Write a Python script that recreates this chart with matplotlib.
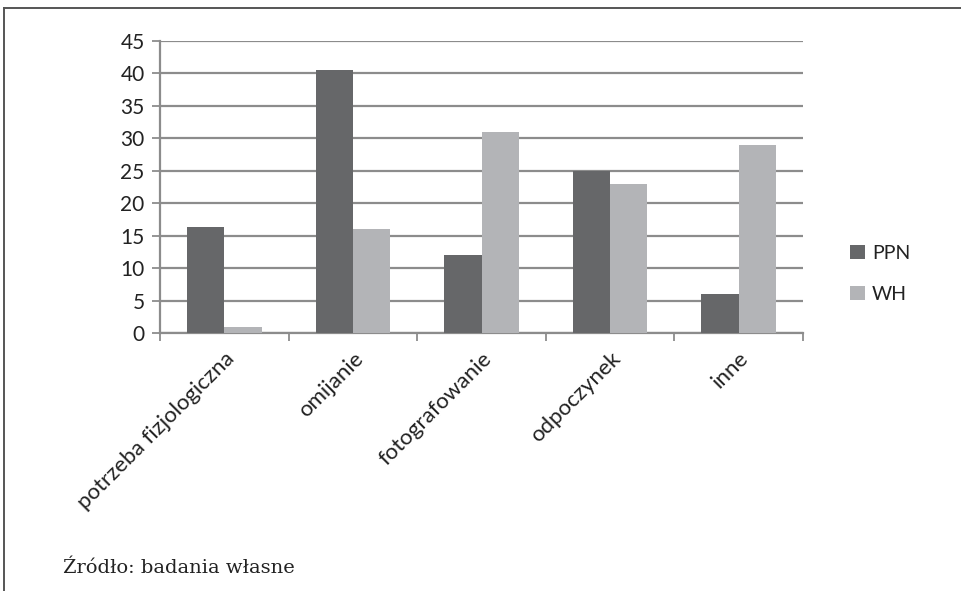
import numpy as np
import matplotlib
matplotlib.use('Agg')
import matplotlib.pyplot as plt
from matplotlib.patches import Patch
from matplotlib.lines import Line2D

# Dane do wykresu
kategorie = ['potrzeba fizjologiczna', 'omijanie', 'fotografowanie', 'odpoczynek', 'inne']
ppn = [16.3, 40.5, 12.0, 25.0, 6.0]
wh = [1.0, 16.0, 31.0, 23.0, 29.0]
serie = ['PPN', 'WH']
zrodlo = 'Źródło: badania własne'

_KOLOR_PPN = '#666769'
_KOLOR_WH = '#b3b4b7'
_KOLOR_SIATKI = '#8c8c8c'
_FONT = ['Lato', 'DejaVu Sans']

plt.rcParams['font.family'] = _FONT

fig = plt.figure(figsize=(9.62, 5.91), dpi=100)
W, H = 962.0, 591.0
ax = fig.add_axes([160 / W, (H - 333) / H, 643 / W, 292 / H])

x = np.arange(len(kategorie))
szer = 0.29
ax.bar(x - szer / 2, ppn, width=szer, color=_KOLOR_PPN, zorder=3, label=serie[0])
ax.bar(x + szer / 2, wh, width=szer, color=_KOLOR_WH, zorder=3, label=serie[1])

ax.set_xlim(-0.5, len(kategorie) - 0.5)
ax.set_ylim(0, 45)
ax.set_yticks(np.arange(0, 46, 5))
ax.yaxis.grid(True, color=_KOLOR_SIATKI, linewidth=1.6, zorder=0)
ax.set_axisbelow(True)

# ticki osi X na granicach kategorii
ax.set_xticks(np.arange(-0.5, len(kategorie), 1.0))
ax.set_xticklabels([])
ax.set_xticks(x, minor=True)
ax.set_xticklabels(kategorie, minor=True, rotation=45, ha='right', va='top',
                   rotation_mode='anchor', fontsize=16, color='#222222')
ax.tick_params(axis='x', which='minor', length=0, pad=11)
ax.tick_params(axis='x', which='major', length=6, width=1.3, color=_KOLOR_SIATKI, direction='out')
ax.tick_params(axis='y', length=6, width=1.3, color=_KOLOR_SIATKI, direction='out',
               labelsize=15, labelcolor='#222222', pad=5)

for s in ['top', 'right']:
    ax.spines[s].set_visible(False)
for s in ['left', 'bottom']:
    ax.spines[s].set_color(_KOLOR_SIATKI)
    ax.spines[s].set_linewidth(1.6)

uchwyty = [Patch(facecolor=_KOLOR_PPN), Patch(facecolor=_KOLOR_WH)]
fig.legend(uchwyty, serie, loc='center left', bbox_to_anchor=(833 / W, 1 - 274 / H),
           frameon=False, fontsize=14, handlelength=0.75, handleheight=0.75,
           handletextpad=0.35, labelspacing=1.25, labelcolor='#222222')

# ramka strony
fig.add_artist(Line2D([4 / W, 1.0], [1 - 8 / H, 1 - 8 / H], color='#555555', linewidth=1.4))
fig.add_artist(Line2D([4 / W, 4 / W], [0.0, 1 - 8 / H], color='#555555', linewidth=1.4))

fig.text(63 / W, 1 - 568 / H, zrodlo, family=['DejaVu Serif'], fontsize=14,
         color='#222222', va='center', ha='left')

fig.savefig('out.png', dpi=100)
